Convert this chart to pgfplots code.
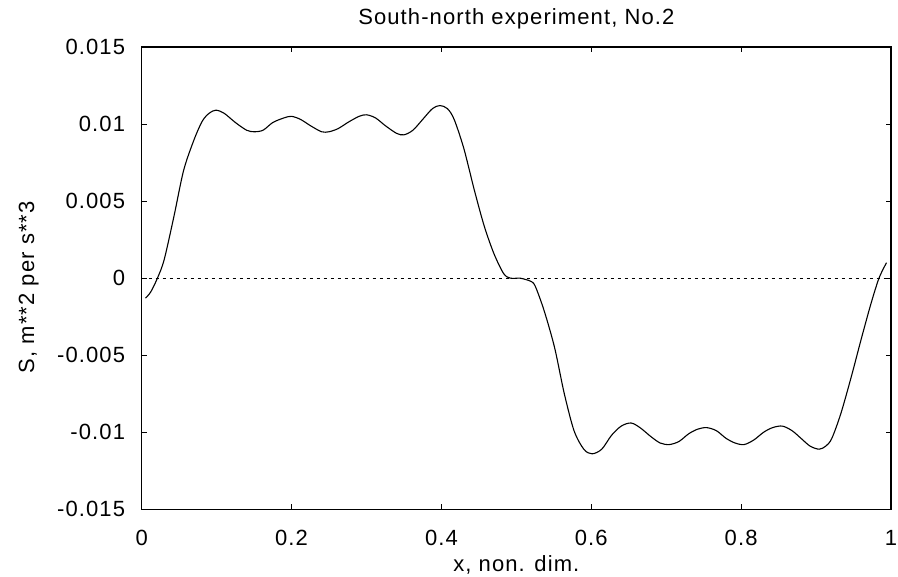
\documentclass[border=0pt]{standalone}
\usepackage{pgfplots}
\pgfplotsset{compat=1.18}
\usepackage{fontspec}
\setmainfont{Liberation Sans}[LetterSpace=5]
\begin{document}
\begin{tikzpicture}
\begin{axis}[
  at={(0,0)}, anchor=south west,
  scale only axis,
  width=749.3pt, height=462.3pt,
  xmin=0, xmax=1, ymin=-0.015, ymax=0.015,
  xtick={0,0.2,0.4,0.6,0.8,1},
  ytick={-0.015,-0.01,-0.005,0,0.005,0.01,0.015},
  scaled x ticks=false, scaled y ticks=false,
  /pgf/number format/assume math mode=true,
  yticklabel style={/pgf/number format/fixed,/pgf/number format/precision=3,
    anchor=east, inner sep=0pt, xshift=-16.5pt},
  xticklabel style={/pgf/number format/fixed,/pgf/number format/precision=1,
    anchor=base, inner sep=0pt, yshift=-36.4pt},
  tick pos=both, tick align=inside, major tick length=5pt,
  axis line style={line width=1.1pt},
  tick style={line width=0.6pt, black},
  ticklabel style={font=\fontsize{22}{26}\selectfont},
  title={South-north experiment, No.2},
  title style={font=\fontsize{22}{26}\selectfont, at={(axis description cs:0.5,1)},
    anchor=base, inner sep=0pt, yshift=16pt},
  xlabel={x, non. dim.},
  ylabel={S, m**2 per s**3},
  label style={font=\fontsize{22}{26}\selectfont},
  xlabel style={at={(axis description cs:0.5,0)}, anchor=base, inner sep=0pt, yshift=-62.5pt},
  ylabel style={at={(axis description cs:-0.1437,0.48)}, anchor=base, inner sep=0pt, rotate=0},
]
\addplot[black, line width=0.6pt, dash pattern=on 3pt off 4pt] coordinates {(0,0) (1,0)};
\addplot[black, line width=1.1pt, smooth, tension=0.5] coordinates {
(0.005,-0.0013) (0.012,-0.0009) (0.021,0.0) (0.030,0.0012) (0.043,0.0040)
(0.056,0.0070) (0.070,0.0090) (0.081,0.0102) (0.090,0.0107) (0.099,0.0109)
(0.110,0.0107) (0.125,0.0101) (0.140,0.0096) (0.150,0.0095) (0.162,0.0096)
(0.175,0.0101) (0.190,0.0104) (0.200,0.0105) (0.212,0.0103) (0.225,0.0099)
(0.240,0.0095) (0.250,0.0095) (0.262,0.0097) (0.275,0.0101) (0.290,0.0105)
(0.300,0.0106) (0.312,0.0104) (0.325,0.0099) (0.340,0.0094) (0.350,0.0093)
(0.362,0.0096) (0.375,0.0103) (0.388,0.0110) (0.398,0.0112) (0.408,0.0110)
(0.417,0.0103) (0.430,0.0084) (0.444,0.0057) (0.457,0.0034) (0.470,0.0016)
(0.483,0.0003) (0.492,0.0000) (0.505,0.0000) (0.513,-0.0001) (0.519,-0.0002)
(0.525,-0.0005) (0.537,-0.0021) (0.551,-0.0045) (0.564,-0.0075) (0.577,-0.0099)
(0.590,-0.0111) (0.601,-0.0114) (0.614,-0.0111) (0.627,-0.0102) (0.640,-0.0096)
(0.653,-0.0094) (0.665,-0.0097) (0.680,-0.0103) (0.692,-0.0107) (0.704,-0.0108)
(0.717,-0.0106) (0.730,-0.0101) (0.742,-0.0098) (0.754,-0.0097) (0.767,-0.0099)
(0.780,-0.0104) (0.792,-0.0107) (0.804,-0.0108) (0.817,-0.0105) (0.830,-0.0100)
(0.842,-0.0097) (0.855,-0.0096) (0.868,-0.0099) (0.880,-0.0104) (0.892,-0.0109)
(0.904,-0.0111) (0.913,-0.0109) (0.921,-0.0104) (0.933,-0.0088) (0.947,-0.0064)
(0.960,-0.0040) (0.973,-0.0017) (0.984,0.0000) (0.994,0.0010)
};
\end{axis}
\pgfresetboundingbox
\useasboundingbox (-141.7pt,-67.7pt) rectangle (756.3pt,509.3pt);
\end{tikzpicture}
\end{document}
